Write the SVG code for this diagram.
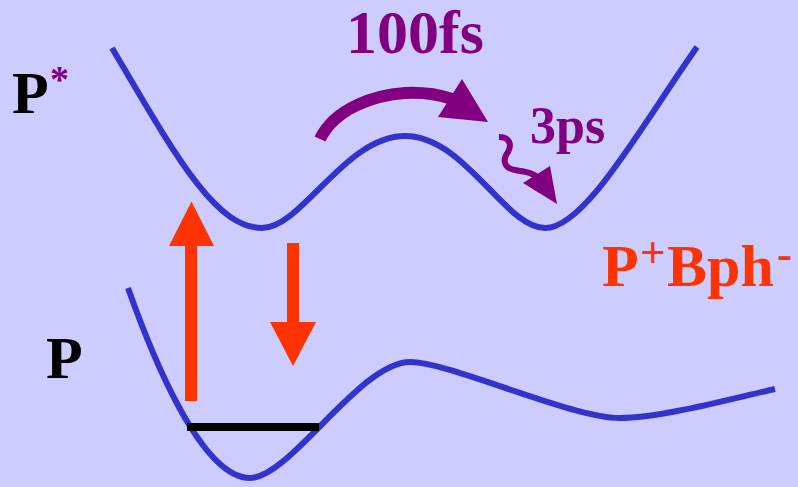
<svg xmlns="http://www.w3.org/2000/svg" width="798" height="487" viewBox="0 0 798 487">
<defs>
<style>
.curve{fill:none;stroke:#3333CC;stroke-width:6;}
.t{font-family:"Liberation Serif","Times New Roman",serif;font-weight:bold;}
.pur{fill:#800080;}
.red{fill:#FF3300;}
</style>
</defs>
<rect x="0" y="0" width="798" height="487" fill="#CCCCFF"/>
<g id="excited-curve">
<path class="curve" d="M112,48 C175,155 215,228 262,228 C302,228 345,136 405,136 C465,136 505,228 545,228 C585,228 640,128 697,47"/>
</g>
<g id="ground-curve">
<path class="curve" d="M128,288 C150,350 200,478 250,478 C290,478 360,362 410,362 C450,362 570,418 620,418 C660,418 730,399 775,389"/>
</g>
<g id="level">
<rect x="187" y="423" width="132" height="8" fill="#000"/>
</g>
<g id="connectors">
<g id="absorption">
<rect x="185" y="245" width="12" height="156" class="red"/>
<polygon points="191.5,201.5 169,246 214,246" class="red"/>
</g>
<g id="emission">
<rect x="287" y="243" width="12" height="80" class="red"/>
<polygon points="270,322 316,322 293,366" class="red"/>
</g>
<g id="transfer-100fs">
<path d="M320,139 C335,108 375,95 405,93 C425,92 440,95 452,99" fill="none" stroke="#800080" stroke-width="12"/>
<polygon points="462,79 438,117 488,122" class="pur"/>
</g>
<g id="relax-3ps">
<path d="M499,137 C510,137 512,145 508,152 C502,160 504,168 515,170 C525,172 532,172 538,178" fill="none" stroke="#800080" stroke-width="6"/>
<polygon points="523,183 550,166 557,204" class="pur"/>
</g>
</g>
<g id="label-Pstar">
<text class="t" x="12" y="113" font-size="60" fill="#000">P</text>
<text class="t pur" x="50" y="92" font-size="38">*</text>
</g>
<g id="label-P">
<text class="t" x="46" y="378" font-size="60" fill="#000">P</text>
</g>
<g id="label-PBph">
<text class="t red" y="286" font-size="60"><tspan x="602">P</tspan><tspan x="640" dy="-19" font-size="45">+</tspan><tspan x="667" dy="19">Bph</tspan><tspan x="777" dy="-17" font-size="45">-</tspan></text>
</g>
<g id="label-100fs">
<text class="t pur" x="346" y="53" font-size="62">100fs</text>
</g>
<g id="label-3ps">
<text class="t pur" x="530" y="143" font-size="52">3ps</text>
</g>
</svg>
